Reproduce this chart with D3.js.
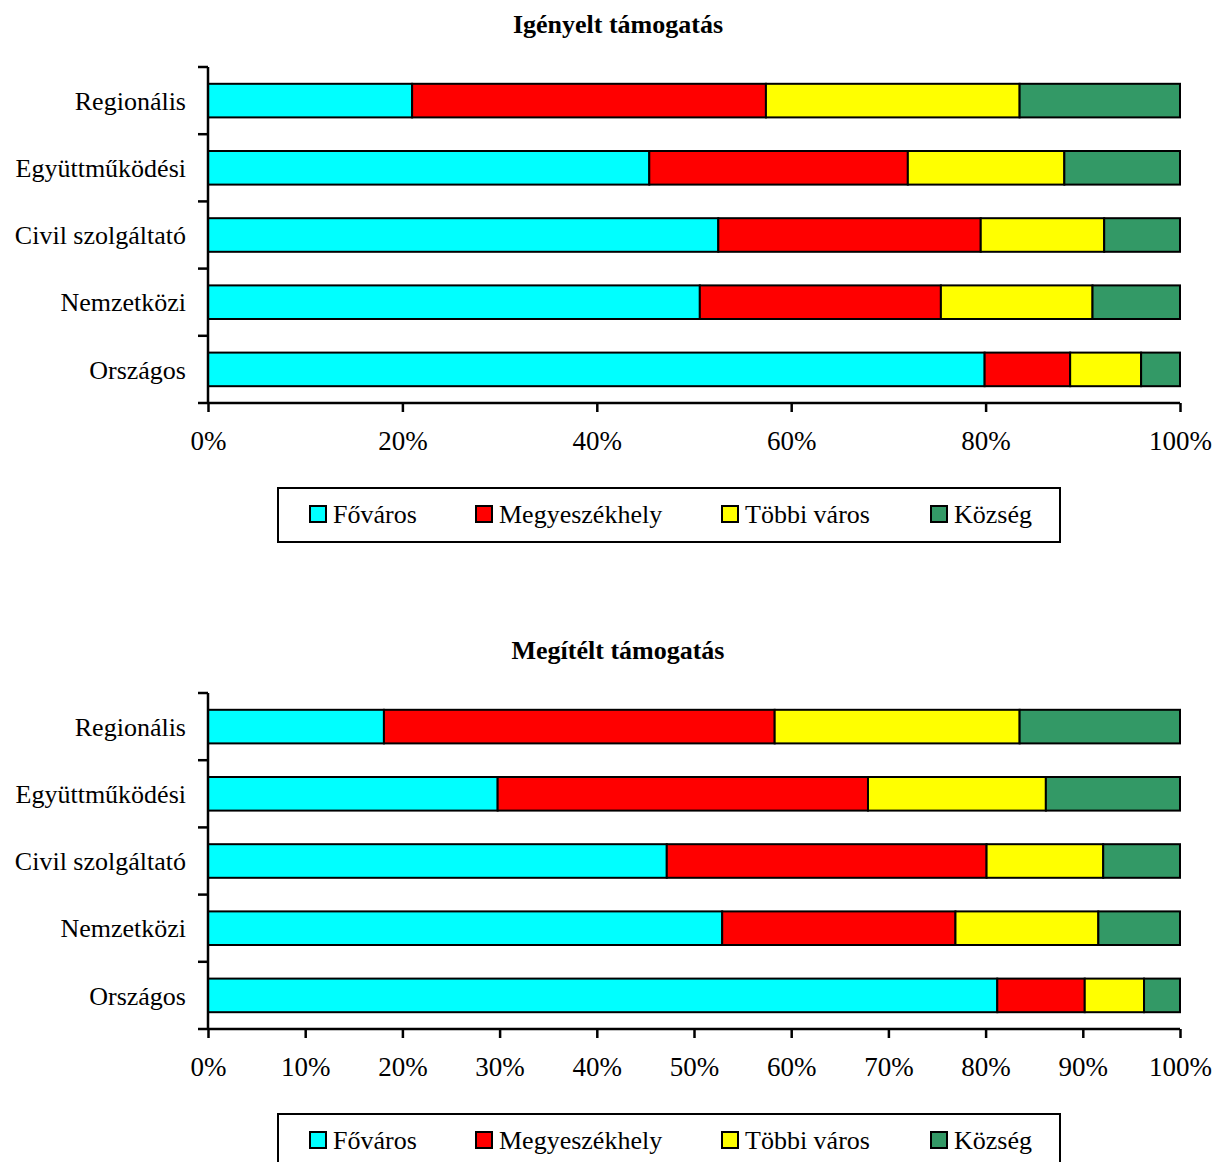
<!DOCTYPE html>
<html>
<head>
<meta charset="utf-8">
<script src="https://cdn.jsdelivr.net/npm/d3@7"></script>
<style>
  html, body { margin: 0; padding: 0; background: #fff; }
  svg { display: block; }
  text { font-family: "Liberation Serif", "Times New Roman", serif; fill: #000; }
</style>
</head>
<body>
<svg id="chart" width="1212" height="1162"></svg>
<script>
// Categories, listed top to bottom
const categories = ["Regionális", "Együttműködési", "Civil szolgáltató", "Nemzetközi", "Országos"];
// Settlement types (stack order, left to right)
const seriesNames = ["Főváros", "Megyeszékhely", "Többi város", "Község"];
const seriesColors = ["#00FFFF", "#FF0000", "#FFFF00", "#339966"];

// Requested support: shares (%) per category, one array per settlement type
const requestedFovaros       = [21.0, 45.4, 52.5, 50.6, 79.9];
const requestedMegyeszekhely = [36.4, 26.6, 27.0, 24.8, 8.8];
const requestedTobbiVaros    = [26.1, 16.1, 12.7, 15.6, 7.3];
const requestedKozseg        = [16.5, 11.9, 7.8, 9.0, 4.0];

// Granted support
const grantedFovaros       = [18.1, 29.8, 47.2, 52.9, 81.2];
const grantedMegyeszekhely = [40.2, 38.1, 32.9, 24.0, 9.0];
const grantedTobbiVaros    = [25.2, 18.3, 12.0, 14.7, 6.1];
const grantedKozseg        = [16.5, 13.8, 7.9, 8.4, 3.7];

const topTicks = [0, 20, 40, 60, 80, 100];
const bottomTicks = [0, 10, 20, 30, 40, 50, 60, 70, 80, 90, 100];

const panels = [
  { title: "Igényelt támogatás", offset: 0,
    series: [requestedFovaros, requestedMegyeszekhely, requestedTobbiVaros, requestedKozseg],
    ticks: topTicks },
  { title: "Megítélt támogatás", offset: 626,
    series: [grantedFovaros, grantedMegyeszekhely, grantedTobbiVaros, grantedKozseg],
    ticks: bottomTicks }
];

const svg = d3.select("#chart");
const plotLeft = 208, plotRight = 1180;
const plotTop = 67, plotBottom = 403;

panels.forEach(p => {
  const g = svg.append("g").attr("transform", `translate(0,${p.offset})`);

  g.append("text")
    .attr("x", 618).attr("y", 33)
    .attr("text-anchor", "middle")
    .attr("font-size", 26).attr("font-weight", "bold")
    .text(p.title);

  const x = d3.scaleLinear().domain([0, 100]).range([plotLeft, plotRight]);
  const y = d3.scaleBand().domain(categories).range([plotTop, plotBottom]).paddingInner(0.5).paddingOuter(0.25);

  // Build stacked rows
  const rows = categories.map((c, i) => {
    const r = { cat: c };
    seriesNames.forEach((s, k) => r[s] = p.series[k][i]);
    return r;
  });
  const stacked = d3.stack().keys(seriesNames)(rows);

  g.selectAll("g.layer").data(stacked).join("g")
    .attr("class", "layer")
    .attr("fill", (d, k) => seriesColors[k])
    .selectAll("rect").data(d => d).join("rect")
      .attr("x", d => x(d[0]))
      .attr("width", d => x(d[1]) - x(d[0]))
      .attr("y", d => y(d.data.cat))
      .attr("height", y.bandwidth())
      .attr("stroke", "#000").attr("stroke-width", 2);

  // Y axis: line with ticks at band boundaries, labels at band centres
  const yAxisG = g.append("g");
  yAxisG.append("line")
    .attr("x1", plotLeft).attr("x2", plotLeft)
    .attr("y1", plotTop).attr("y2", plotBottom)
    .attr("stroke", "#000").attr("stroke-width", 2.5);
  const bounds = d3.range(categories.length + 1).map(i => plotTop + i * y.step());
  yAxisG.selectAll("line.tick").data(bounds).join("line")
    .attr("class", "tick")
    .attr("x1", plotLeft - 10).attr("x2", plotLeft)
    .attr("y1", d => d).attr("y2", d => d)
    .attr("stroke", "#000").attr("stroke-width", 2.5);
  yAxisG.selectAll("text").data(categories).join("text")
    .attr("x", 186)
    .attr("y", d => y(d) + y.bandwidth() / 2)
    .attr("dy", "0.35em")
    .attr("text-anchor", "end")
    .attr("font-size", 26)
    .text(d => d);

  // X axis
  const xAxis = d3.axisBottom(x).tickValues(p.ticks).tickFormat(d => d + "%").tickSize(9).tickPadding(19);
  const xg = g.append("g").attr("transform", `translate(0,${plotBottom})`).call(xAxis);
  xg.select(".domain").attr("stroke", "#000").attr("stroke-width", 2.5)
    .attr("d", `M${plotLeft},0H${plotRight}`);
  xg.selectAll(".tick line").attr("stroke", "#000").attr("stroke-width", 2.5);
  xg.selectAll(".tick text")
    .attr("font-size", 27)
    .attr("font-family", "Liberation Serif, Times New Roman, serif")
    .attr("fill", "#000");

  // Legend
  const lg = g.append("g");
  lg.append("rect")
    .attr("x", 278).attr("y", 488).attr("width", 782).attr("height", 54)
    .attr("fill", "#fff").attr("stroke", "#000").attr("stroke-width", 2);
  const legendX = [310, 476, 722, 931];
  const items = lg.selectAll("g.item").data(seriesNames).join("g")
    .attr("class", "item")
    .attr("transform", (d, k) => `translate(${legendX[k]},506)`);
  items.append("rect")
    .attr("width", 16).attr("height", 16)
    .attr("fill", (d, k) => seriesColors[k])
    .attr("stroke", "#000").attr("stroke-width", 2);
  items.append("text")
    .attr("x", 23).attr("y", 17)
    .attr("font-size", 26)
    .text(d => d);
});
</script>
</body>
</html>
